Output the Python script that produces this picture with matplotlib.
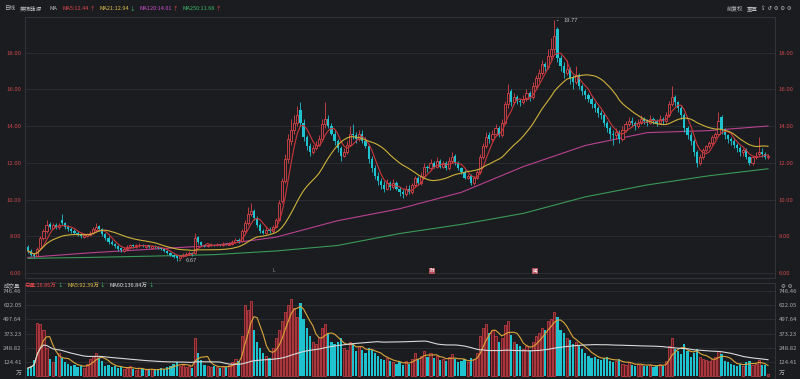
import numpy as np
import pandas as pd
import matplotlib
matplotlib.use("Agg")
from matplotlib import pyplot as plt

plt.rcParams['font.family'] = ['Noto Sans CJK SC', 'DejaVu Sans']

W, H = 800, 379
BG = '#1b1c20'
GRID = '#2b2c31'
UP = '#d8434a'
DOWN = '#1fc3cf'
UP_FILL = '#5e1d22'

# daily candles, oldest first
opens = [
    7.4, 7.2, 7.0, 6.95, 7.35, 7.9, 8.3, 8.65, 8.45, 8.6,
    8.5, 8.9, 8.7, 8.5, 8.4, 8.3, 8.2, 8.1, 7.95, 8.0,
    8.05, 8.2, 8.35, 8.55, 8.4, 8.1, 7.9, 7.7, 7.6, 7.45,
    7.35, 7.2, 7.3, 7.4, 7.5, 7.42, 7.5, 7.55, 7.42, 7.5,
    7.38, 7.45, 7.4, 7.35, 7.3, 7.2, 7.1, 7.0, 6.9, 6.8,
    6.9, 7.0, 7.05, 7.1, 7.1, 7.95, 7.7, 7.5, 7.45, 7.5,
    7.55, 7.5, 7.55, 7.5, 7.6, 7.55, 7.6, 7.7, 7.8, 7.75,
    8.3, 8.7, 9.2, 9.4, 9.0, 8.6, 8.3, 8.2, 8.35, 8.3,
    8.5, 8.9, 9.9, 11.0, 12.2, 13.2, 13.8, 14.2, 14.9, 14.2,
    13.4, 12.9, 12.6, 12.8, 13.0, 13.3, 14.1, 14.4, 14.0, 13.6,
    13.2, 12.8, 12.4, 12.6, 13.0, 13.6, 13.5, 13.3, 13.6, 13.2,
    12.9, 12.2, 11.7, 11.3, 11.0, 10.8, 10.6, 10.9, 10.7, 10.9,
    10.6, 10.4, 10.3, 10.6, 10.4, 10.8, 11.2, 10.9, 11.3, 11.8,
    11.7, 12.0, 11.8, 12.1, 11.8, 12.0, 11.7, 12.1, 12.4, 12.0,
    11.7, 11.5, 11.2, 11.3, 10.9, 11.2, 11.5, 12.3, 12.9, 13.5,
    13.3, 13.6, 13.9, 13.5, 14.2, 15.2, 15.9, 15.3, 15.6, 15.4,
    15.3, 15.5, 15.8, 15.6, 16.2, 16.6, 16.9, 17.4, 17.2, 17.8,
    18.2, 19.3, 17.7, 17.3, 16.9, 17.1, 16.6, 16.4, 16.8, 16.2,
    15.9, 15.7, 15.5, 15.2, 15.0, 14.7, 14.6, 14.2, 13.9, 13.6,
    13.5, 13.7, 13.3, 13.8, 14.1, 14.3, 14.2, 14.0, 14.2, 14.4,
    14.3, 14.2, 14.4, 14.3, 14.2, 14.4, 14.3, 14.6, 15.2, 15.6,
    15.3, 15.0, 14.6, 13.9, 13.5, 13.2, 12.6, 12.0, 12.3, 12.7,
    12.9, 13.1, 13.4, 13.6, 14.5, 13.8, 13.5, 13.3, 13.2, 13.0,
    12.8, 12.6, 12.7, 12.3, 12.0, 12.3, 12.5, 12.6, 12.5, 12.3,
]
closes = [
    7.2, 7.0, 6.9, 7.3, 7.9, 8.3, 8.6, 8.5, 8.6, 8.5,
    8.6, 8.7, 8.5, 8.4, 8.3, 8.2, 8.1, 8.0, 8.05, 8.1,
    8.2, 8.4, 8.5, 8.4, 8.1, 7.9, 7.7, 7.6, 7.45, 7.3,
    7.25, 7.3, 7.4, 7.5, 7.45, 7.5, 7.55, 7.45, 7.5, 7.4,
    7.45, 7.4, 7.35, 7.3, 7.2, 7.1, 7.0, 6.85, 6.8, 6.9,
    7.0, 7.05, 7.1, 7.0, 7.9, 7.7, 7.5, 7.45, 7.5, 7.55,
    7.5, 7.55, 7.5, 7.6, 7.55, 7.6, 7.7, 7.8, 7.75, 8.3,
    8.7, 9.2, 9.4, 9.0, 8.6, 8.3, 8.2, 8.35, 8.3, 8.5,
    8.9, 9.8, 11.0, 12.2, 13.3, 13.8, 14.2, 14.6, 14.2, 13.4,
    12.9, 12.6, 12.8, 13.0, 13.3, 14.1, 14.4, 14.0, 13.6, 13.2,
    12.8, 12.4, 12.6, 13.0, 13.6, 13.5, 13.3, 13.6, 13.2, 12.9,
    12.2, 11.7, 11.3, 11.0, 10.8, 10.6, 10.9, 10.7, 10.9, 10.6,
    10.4, 10.3, 10.6, 10.4, 10.8, 11.2, 10.9, 11.3, 11.8, 11.7,
    12.0, 11.8, 12.1, 11.8, 12.0, 11.7, 12.1, 12.3, 12.0, 11.7,
    11.5, 11.2, 11.3, 10.9, 11.2, 11.5, 12.3, 12.9, 13.4, 13.3,
    13.6, 13.9, 13.5, 14.2, 15.2, 15.8, 15.3, 15.6, 15.4, 15.3,
    15.5, 15.8, 15.6, 16.2, 16.6, 16.9, 17.4, 17.2, 17.8, 18.2,
    18.9, 17.7, 17.3, 16.9, 17.1, 16.6, 16.4, 16.8, 16.2, 15.9,
    15.7, 15.5, 15.2, 15.0, 14.7, 14.6, 14.2, 13.9, 13.6, 13.5,
    13.7, 13.3, 13.8, 14.1, 14.3, 14.2, 14.0, 14.2, 14.4, 14.3,
    14.2, 14.4, 14.3, 14.2, 14.4, 14.3, 14.6, 15.2, 15.6, 15.3,
    15.0, 14.6, 13.9, 13.5, 13.2, 12.6, 12.0, 12.3, 12.7, 12.9,
    13.1, 13.4, 13.6, 14.3, 13.8, 13.5, 13.3, 13.2, 13.0, 12.8,
    12.6, 12.7, 12.3, 12.0, 12.3, 12.4, 12.6, 12.5, 12.3, 12.4,
]
highs = [
    7.5, 7.3, 7.1, 7.4, 8.0, 8.4, 8.9, 8.8, 8.7, 8.7,
    8.7, 9.2, 8.8, 8.6, 8.5, 8.4, 8.3, 8.2, 8.15, 8.2,
    8.3, 8.5, 8.7, 8.6, 8.45, 8.2, 8.0, 7.8, 7.65, 7.5,
    7.4, 7.4, 7.5, 7.6, 7.6, 7.6, 7.65, 7.6, 7.55, 7.55,
    7.5, 7.5, 7.45, 7.4, 7.35, 7.25, 7.15, 7.05, 6.95, 6.95,
    7.1, 7.15, 7.2, 7.15, 8.2, 8.0, 7.75, 7.55, 7.6, 7.65,
    7.6, 7.65, 7.6, 7.7, 7.65, 7.7, 7.8, 7.9, 7.9, 8.4,
    8.9, 9.6, 9.8, 9.5, 9.1, 8.7, 8.4, 8.5, 8.5, 8.6,
    9.0, 10.0, 11.2, 12.5, 13.6, 14.4, 14.6, 15.1, 15.3, 14.4,
    13.5, 13.1, 13.0, 13.2, 13.5, 14.4, 15.3, 14.6, 14.2, 13.8,
    13.3, 12.9, 12.8, 13.2, 14.0, 14.1, 13.7, 13.8, 13.8, 13.4,
    13.0, 12.4, 11.9, 11.5, 11.2, 11.0, 11.1, 11.0, 11.1, 11.0,
    10.7, 10.6, 10.8, 10.8, 10.9, 11.3, 11.3, 11.5, 12.0, 11.9,
    12.2, 12.1, 12.3, 12.2, 12.1, 12.1, 12.3, 12.6, 12.5, 12.1,
    11.8, 11.6, 11.4, 11.4, 11.3, 11.6, 12.5, 13.1, 13.7, 13.7,
    13.8, 14.1, 14.0, 14.4, 15.4, 16.3, 16.0, 15.8, 15.7, 15.5,
    15.7, 16.0, 15.9, 16.4, 16.8, 17.1, 17.6, 17.5, 18.2, 18.8,
    19.77, 19.4, 17.9, 17.5, 17.6, 17.2, 16.8, 17.3, 16.9, 16.3,
    16.0, 15.8, 15.6, 15.3, 15.1, 14.9, 14.7, 14.3, 14.0, 13.8,
    13.9, 13.8, 14.0, 14.3, 14.5, 14.5, 14.3, 14.4, 14.6, 14.5,
    14.4, 14.6, 14.5, 14.4, 14.6, 14.5, 14.8, 15.4, 16.2, 15.7,
    15.4, 15.1, 14.7, 14.0, 13.7, 13.3, 12.7, 12.5, 12.8, 13.0,
    13.2, 13.5, 13.7, 14.8, 14.6, 13.9, 13.6, 13.4, 13.3, 13.1,
    12.9, 12.8, 12.8, 12.4, 12.4, 12.6, 13.4, 12.8, 12.6, 12.5,
]
lows = [
    7.1, 6.95, 6.85, 6.9, 7.3, 7.8, 8.2, 8.4, 8.4, 8.4,
    8.4, 8.6, 8.4, 8.3, 8.2, 8.1, 8.0, 7.9, 7.9, 7.95,
    8.0, 8.1, 8.3, 8.3, 8.0, 7.8, 7.6, 7.5, 7.35, 7.2,
    7.15, 7.15, 7.25, 7.35, 7.35, 7.38, 7.42, 7.4, 7.38, 7.35,
    7.3, 7.35, 7.3, 7.25, 7.15, 7.05, 6.95, 6.8, 6.67, 6.75,
    6.85, 6.95, 7.0, 6.95, 7.05, 7.6, 7.45, 7.4, 7.4, 7.45,
    7.45, 7.45, 7.45, 7.45, 7.5, 7.5, 7.55, 7.65, 7.65, 7.7,
    8.2, 8.6, 9.1, 8.9, 8.5, 8.2, 8.1, 8.1, 8.2, 8.2,
    8.5, 8.9, 9.8, 10.9, 12.0, 13.0, 13.6, 14.0, 14.0, 13.2,
    12.7, 12.4, 12.5, 12.7, 12.9, 13.2, 13.9, 13.9, 13.5, 13.0,
    12.6, 12.1, 12.3, 12.5, 12.9, 13.3, 13.1, 13.2, 13.1, 12.8,
    12.0, 11.5, 11.1, 10.8, 10.6, 10.4, 10.5, 10.5, 10.6, 10.5,
    10.2, 10.1, 10.2, 10.3, 10.3, 10.7, 10.8, 10.8, 11.2, 11.5,
    11.6, 11.7, 11.7, 11.7, 11.7, 11.6, 11.6, 12.0, 11.9, 11.6,
    11.4, 11.1, 11.1, 10.8, 10.8, 11.1, 11.4, 12.2, 12.8, 13.1,
    13.2, 13.5, 13.4, 13.4, 14.1, 15.0, 15.1, 15.2, 15.2, 15.1,
    15.2, 15.4, 15.4, 15.5, 16.1, 16.4, 16.8, 17.0, 17.1, 17.6,
    18.0, 17.5, 17.0, 16.6, 16.8, 16.3, 16.0, 16.3, 16.0, 15.7,
    15.5, 15.3, 15.0, 14.8, 14.5, 14.4, 14.0, 13.7, 13.3, 13.0,
    13.3, 13.1, 13.2, 13.7, 14.0, 14.0, 13.8, 13.9, 14.1, 14.1,
    14.0, 14.1, 14.1, 14.0, 14.1, 14.1, 14.2, 14.5, 15.1, 15.1,
    14.8, 14.4, 13.7, 13.3, 13.0, 12.4, 11.8, 11.9, 12.2, 12.6,
    12.8, 13.0, 13.3, 13.5, 13.6, 13.3, 13.1, 13.0, 12.8, 12.6,
    12.4, 12.4, 12.2, 11.9, 11.9, 12.2, 12.4, 12.3, 12.2, 12.2,
]
# volume in 万
volumes = [
    70, 90, 140, 470, 460, 400, 250, 150, 120, 180,
    200, 160, 120, 110, 90, 100, 80, 90, 70, 110,
    150, 180, 200, 160, 130, 90, 100, 80, 90, 70,
    80, 60, 70, 90, 60, 50, 70, 60, 50, 60,
    60, 50, 60, 70, 60, 80, 90, 110, 120, 90,
    100, 80, 90, 70, 330, 200, 140, 100, 90, 80,
    90, 80, 70, 90, 80, 100, 120, 150, 130, 350,
    620, 580, 660, 400, 300, 250, 200, 180, 160, 250,
    330, 400, 480, 560, 620, 680, 600, 520, 640, 500,
    420, 350, 300, 280, 330, 420, 460, 380, 300, 280,
    300, 330, 250, 230, 300, 280, 220, 260, 230, 200,
    250, 230, 200, 180, 150, 140, 160, 130, 120, 110,
    120, 100, 130, 110, 150, 200, 150, 180, 220, 170,
    200, 160, 180, 140, 150, 130, 170, 190, 150, 120,
    130, 150, 120, 160, 150, 200, 350, 420, 460, 380,
    400, 350, 300, 330, 450, 480, 360, 300, 280, 260,
    240, 260, 230, 300, 350, 380, 420, 400, 480, 500,
    560, 520, 400, 380, 330, 320, 280, 300, 260, 240,
    200, 180, 160, 170, 150, 140, 160, 170, 130, 120,
    130, 150, 110, 100, 120, 100, 90, 110, 100, 90,
    90, 100, 80, 90, 110, 90, 130, 260, 330, 240,
    220, 190, 280, 220, 170, 200, 240, 170, 150, 140,
    130, 150, 170, 220, 190, 130, 120, 110, 100, 90,
    110, 90, 120, 130, 100, 110, 140, 100, 95, 16.86,
]
# long moving averages every 20 sessions
long_ma_idx = [0, 20, 40, 60, 80, 100, 120, 140, 160, 180, 200, 220, 239]
ma120_pts = [6.85, 7.1, 7.3, 7.5, 7.95, 8.85, 9.5, 10.4, 11.8, 12.95, 13.65, 13.76, 14.01]
ma250_pts = [6.8, 6.85, 6.92, 7.0, 7.2, 7.5, 8.15, 8.65, 9.25, 10.15, 10.8, 11.3, 11.68]

price_ticks = [6, 8, 10, 12, 14, 16, 18]
vol_ticks = [0, 124.41, 248.82, 373.23, 497.64, 622.05, 746.46]
vol_tick_labels = ['万', '124.41', '248.82', '373.23', '497.64', '622.05', '746.46']

price_header = [
    (3, [('日线', '#bbbbbb')]),
    (20, [('美锦能源', '#bbbbbb')]),
    (50, [('MA', '#bbbbbb')]),
    (61, [('MA5:12.44', '#e0474c'), ('↑', '#e0474c')]),
    (94, [('MA21:12.94', '#e0c04a'), ('↓', '#3cc06a')]),
    (130, [('MA120:14.01', '#cc4ccc'), ('↑', '#e0474c')]),
    (171, [('MA250:11.68', '#3cbb6a'), ('↑', '#e0474c')]),
]
vol_header = [
    (3, [('成交量', '#bbbbbb')]),
    (25, [('总量:16.86万', '#e0474c'), ('↓', '#3cc06a')]),
    (60, [('MA5:92.39万', '#e0c04a'), ('↓', '#3cc06a')]),
    (97, [('MA60:136.84万', '#dddddd'), ('↓', '#3cc06a')]),
]


def fx(px):
    return px / W


def fy(py):
    return 1 - py / H


o = np.array(opens)
c = np.array(closes)
h = np.array(highs)
l = np.array(lows)
v = np.array(volumes, dtype=float)
n = len(c)
x = np.arange(n)
up = c >= o

fig = plt.figure(figsize=(W / 100, H / 100), dpi=100, facecolor=BG)
ax = fig.add_axes([fx(25), fy(278), fx(750), (278 - 17) / H], facecolor=BG)
axv = fig.add_axes([fx(25), 0, fx(750), (379 - 283) / H], facecolor=BG)

x0, x1 = -0.97, n - 1 + 2.26

# price panel
for p in price_ticks:
    ax.axhline(p, color=GRID, lw=0.7, zorder=0)
ax.vlines(x, l, h, colors=np.where(up, UP, DOWN), lw=0.6, zorder=2)
bh = np.maximum(np.abs(c - o), 0.03)
blo = np.minimum(o, c)
ax.bar(x[up], bh[up], bottom=blo[up], width=0.7, facecolor=BG, edgecolor=UP, linewidth=0.6, zorder=3)
ax.bar(x[~up], bh[~up], bottom=blo[~up], width=0.7, color=DOWN, linewidth=0, zorder=3)

s = pd.Series(c)
ax.plot(x, s.rolling(5, min_periods=1).mean(), color='#c8383c', lw=0.8, zorder=4)
ax.plot(x, s.rolling(21, min_periods=1).mean(), color='#cdb13a', lw=0.8, zorder=4)
ax.plot(long_ma_idx, ma120_pts, color='#b8428f', lw=0.8, zorder=1)
ax.plot(long_ma_idx, ma250_pts, color='#3a9a58', lw=0.8, zorder=1)

ip = int(np.argmax(h))
ax.annotate('19.77', xy=(ip, h[ip]), xytext=(ip + 3, h[ip]), fontsize=4.2, color='#bbbbbb',
            va='center', arrowprops=dict(arrowstyle='-', color='#bbbbbb', lw=0.5))
il = int(np.argmin(l))
ax.annotate('6.67', xy=(il, l[il]), xytext=(il + 3, l[il]), fontsize=4.2, color='#bbbbbb',
            va='center', arrowprops=dict(arrowstyle='-', color='#bbbbbb', lw=0.5))

ax.set_xlim(x0, x1)
ax.set_ylim(5.728, 19.95)
ax.set_yticks(price_ticks)
ax.set_yticklabels(['%.2f' % p for p in price_ticks])
ax.set_xticks([])
ax.tick_params(axis='y', length=0, labelsize=4.3, labelcolor='#c8474c', labelleft=True,
               labelright=True, pad=2.5)

# volume panel
for t in vol_ticks[1:]:
    axv.axhline(t, color=GRID, lw=0.7, zorder=0)
axv.bar(x[up], v[up], width=0.7, facecolor=UP_FILL, edgecolor=UP, linewidth=0.5, zorder=2)
axv.bar(x[~up], v[~up], width=0.7, color=DOWN, linewidth=0, zorder=2)
sv = pd.Series(v)
axv.plot(x, sv.rolling(5, min_periods=1).mean(), color='#d9a63a', lw=0.8, zorder=3)
axv.plot(x, sv.rolling(60, min_periods=1).mean(), color='#d8d8d8', lw=0.8, zorder=3)
axv.set_xlim(x0, x1)
axv.set_ylim(-26, 817)
axv.set_yticks(vol_ticks)
axv.set_yticklabels(vol_tick_labels)
axv.set_xticks([])
axv.tick_params(axis='y', length=0, labelsize=4.3, labelcolor='#a8a8a8', labelleft=True,
                labelright=True, pad=2.5)
# lift the unit label so it sits inside the figure
for t in axv.yaxis.get_major_ticks()[:1]:
    t.label1.set_va('bottom')
    t.label2.set_va('bottom')

for a in (ax, axv):
    for sp in a.spines.values():
        sp.set_color('#34353b')
        sp.set_linewidth(0.7)

fig.canvas.draw()
renderer = fig.canvas.get_renderer()
fs = 4.0


def put_row(y_px, items):
    cur = 0
    for x_px, parts in items:
        cur = max(x_px, cur + 4)
        for txt, col in parts:
            t = fig.text(fx(cur), fy(y_px), txt, fontsize=fs, color=col, va='center')
            bb = t.get_window_extent(renderer)
            cur += bb.width + 0.5


put_row(9, price_header)
put_row(285, vol_header)

fig.text(fx(727), fy(9), '前复权', fontsize=fs, color='#bbbbbb', va='center')
fig.text(fx(747), fy(9), '重置', fontsize=fs, color='#bbbbbb', va='center')
fig.text(fx(761), fy(9), '⇪ ↺ ⚙ ⊖ ⚙', fontsize=fs, color='#bbbbbb', va='center',
         family='DejaVu Sans')
fig.text(fx(781), fy(286), '⚙ ⚙', fontsize=fs, color='#bbbbbb', va='center', family='DejaVu Sans')

# event markers along the bottom of the price panel
fig.text(fx(274), fy(271), 'L', fontsize=3.5, color='#999999', ha='center', va='center')
for mx, mt in [(432, '财'), (535, '概')]:
    fig.text(fx(mx), fy(271), mt, fontsize=3.2, color='#ffffff', ha='center', va='center',
             bbox=dict(boxstyle='square,pad=0.15', fc='#b0505c', ec='none'))

fig.savefig('out.png', dpi=100, facecolor=BG)
